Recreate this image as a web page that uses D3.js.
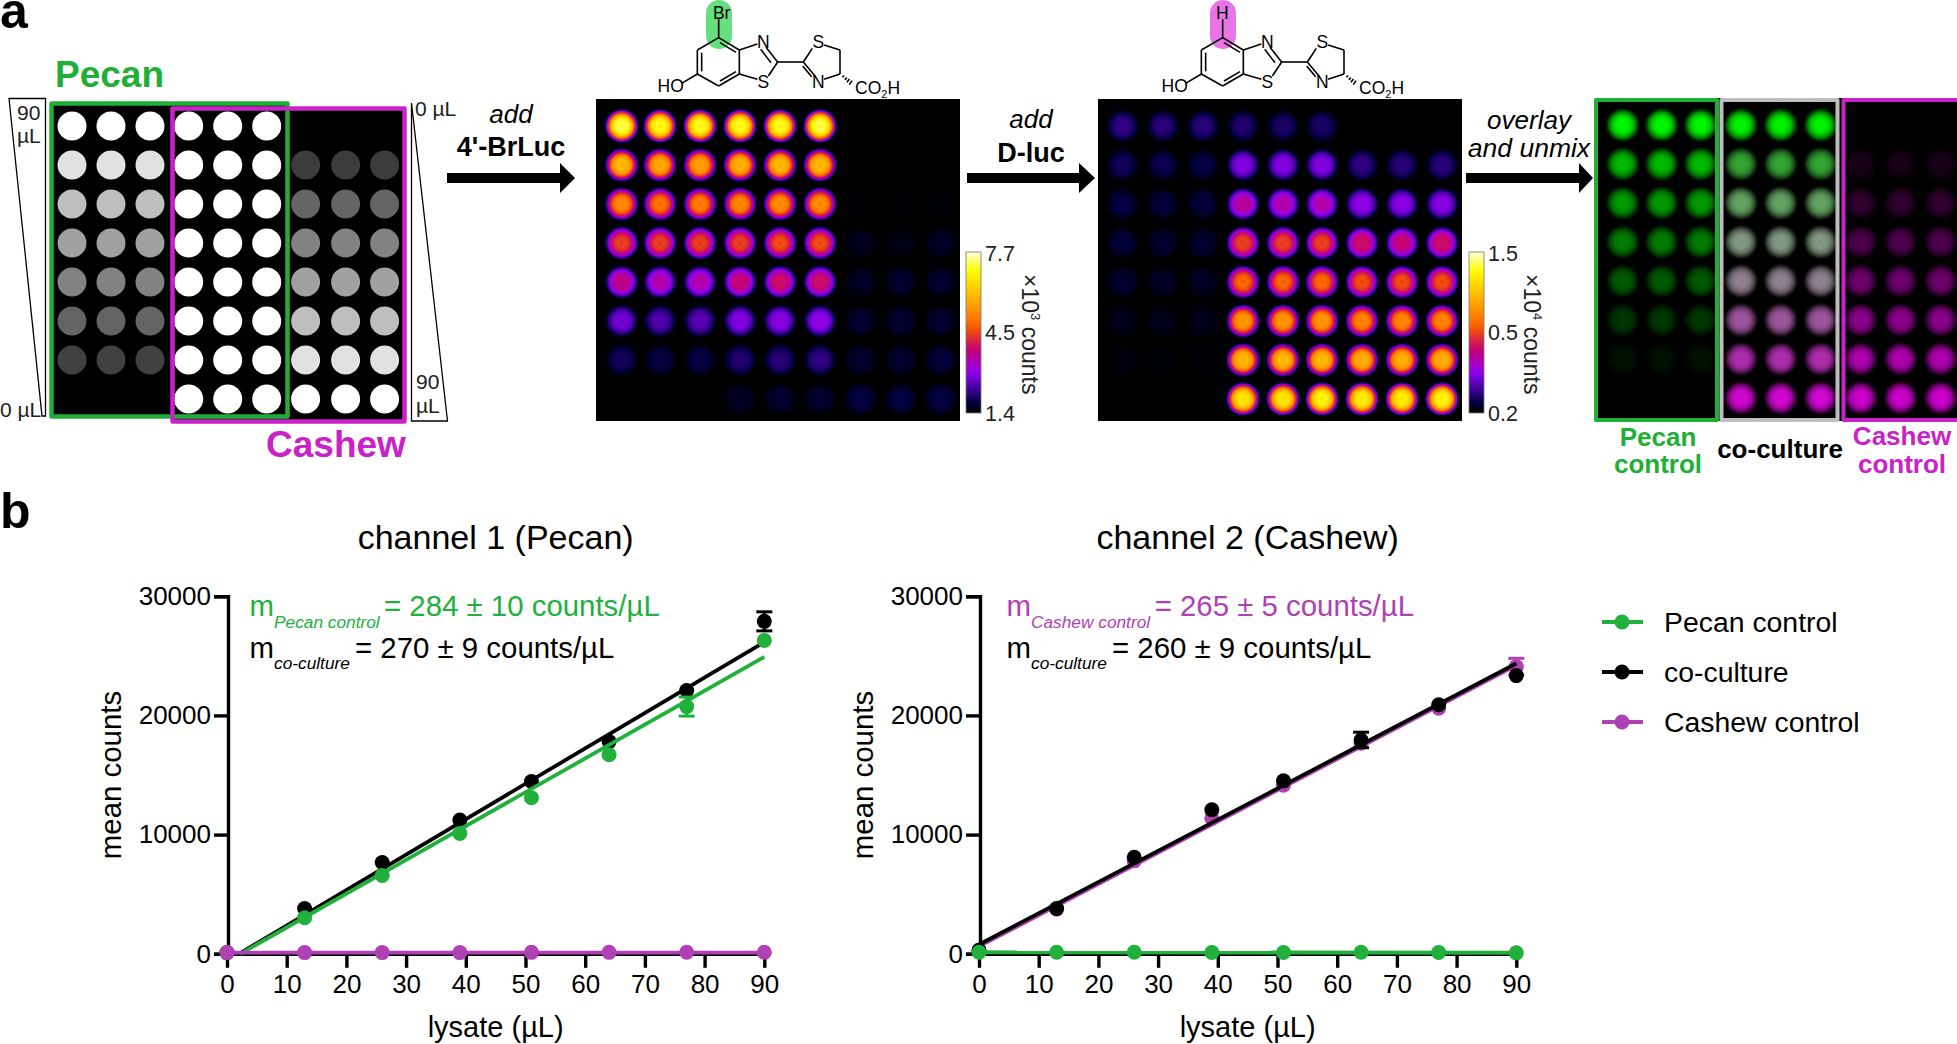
<!DOCTYPE html>
<html><head><meta charset="utf-8">
<script src="https://cdn.jsdelivr.net/npm/d3@7"></script>
<style>
html,body{margin:0;padding:0;background:#fff;overflow:hidden}
svg{display:block}
text{font-family:"Liberation Sans",Arial,sans-serif}
</style></head><body>
<svg id="c" width="1957" height="1044"></svg>
<script>
// ---- Panel b data ----
const lysate=[0,13,26,39,51,64,77,90];
const ch1Pecan=[100,3030,6570,10090,13090,16700,20740,26290];
const ch1Co=[100,3800,7660,11230,14460,17800,22090,27890];
const ch1Cashew=[100,100,100,100,120,120,130,120];
const ch1PecanErr=[0,0,0,0,0,0,800,0];
const ch1CoErr=[0,0,0,0,0,0,0,800];
const ch1CashewErr=[0,0,0,0,0,0,0,0];
const ch2Pecan=[130,130,130,110,110,130,110,80];
const ch2Co=[300,3800,8090,12090,14510,17940,20890,23340];
const ch2Cashew=[300,3750,7800,11370,14140,17660,20600,24090];
const ch2PecanErr=[0,0,0,0,0,0,0,0];
const ch2CoErr=[0,0,0,0,0,650,0,0];
const ch2CashewErr=[0,0,0,0,0,0,0,700];
const ch1FitPecan=[[2.2,0],[90,24900]];
const ch1FitCo=[[2,0],[90,26150]];
const ch1FitCashew=[[0,100],[90,100]];
const ch2FitPecan=[[0,130],[90,90]];
const ch2FitCo=[[0,780],[90,24350]];
const ch2FitCashew=[[0,620],[90,24200]];
const xTicks=[0,10,20,30,40,50,60,70,80,90];
const yTicks=[0,10000,20000,30000];
// ---- Panel a data ----
const platePecan=[255,225,190,160,130,100,65,0];
const plateBoth=[255,255,255,255,255,255,255,255];
const plateCashew=[0,60,100,130,160,190,225,255];
const heat1=[
[.93,.89,.9,.9,.9,.93,0,0,0],
[.74,.70,.68,.72,.74,.74,0,0,0],
[.63,.58,.60,.62,.64,.64,.005,.005,.01],
[.50,.50,.50,.50,.52,.52,.03,.02,.04],
[.38,.34,.34,.40,.42,.42,.04,.05,.05],
[.22,.17,.18,.24,.25,.26,.05,.05,.05],
[.09,.07,.07,.11,.12,.13,.05,.05,.06],
[0,0,0,.04,.05,.05,.07,.07,.07]];
const heat2=[
[.13,.12,.12,.11,.10,.10,0,0,0],
[.09,.08,.07,.24,.24,.24,.13,.12,.12],
[.07,.06,.06,.36,.34,.34,.26,.25,.25],
[.06,.05,.05,.50,.50,.50,.42,.40,.42],
[.05,.04,.04,.56,.56,.56,.52,.52,.52],
[.03,.03,.03,.66,.66,.66,.62,.62,.62],
[.015,.01,.01,.74,.74,.74,.72,.72,.72],
[0,0,0,.84,.84,.88,.86,.86,.88]];
const ovPecanG=[1,.75,.62,.5,.36,.22,.07,0];
const ovPecanM=[0,0,0,0,0,0,0,0];
const ovCoG=[.98,.66,.66,.62,.52,.35,.18,.03];
const ovCoM=[0,.22,.42,.56,.62,.68,.75,.9];
const ovCashewG=[0,0,0,0,0,0,0,0];
const ovCashewM=[0,.1,.2,.33,.47,.6,.75,.88];
// ImageJ "fire" lookup table
const fireR=[0,0,1,25,49,73,98,122,146,162,173,184,195,207,217,229,240,252,255,255,255,255,255,255,255,255,255,255,255,255,255,255];
const fireG=[0,0,0,0,0,0,0,0,0,0,0,0,0,14,35,57,79,101,117,133,147,161,175,190,205,219,234,248,255,255,255,255];
const fireB=[0,31,61,96,130,165,192,220,227,210,181,151,122,93,64,35,5,0,0,0,0,0,0,0,0,0,0,0,35,98,160,223];

const GREEN="#1fae36",MAG="#c922c9",LG="#21b03c",LP="#b040b4";
const fire=d3.scaleLinear().domain(fireR.map((_,i)=>i/31)).range(fireR.map((r,i)=>d3.rgb(r,fireG[i],fireB[i]))).clamp(true);
const profT=[0,.22,.42,.55,.65,.72,.83,.92,1], profV=[.94,1,.92,.8,.65,.52,.27,.07,0];
const svg=d3.select("#c"),defs=svg.append("defs");
let gid=0;
function txt(x,y,s,o={}){
  const t=svg.append("text").attr("x",x).attr("y",y).text(s)
   .attr("font-size",o.fs||26).attr("fill",o.fill||"#000").attr("text-anchor",o.a||"start");
  if(o.b)t.attr("font-weight","bold"); if(o.i)t.attr("font-style","italic");
  if(o.rot!=null)t.attr("transform",`rotate(${o.rot} ${x} ${y})`);
  return t;
}
function grad(colorAt){
  const id="g"+(gid++);
  const g=defs.append("radialGradient").attr("id",id);
  profT.forEach((t,i)=>g.append("stop").attr("offset",t).attr("stop-color",colorAt(profV[i])));
  return id;
}
function wells(cols,rows,values,colorOf,r){
  cols.forEach((cx,c)=>rows.forEach((cy,ro)=>{
    const v=values(ro,c); if(!v)return;
    svg.append("circle").attr("cx",cx).attr("cy",cy).attr("r",r).attr("fill",`url(#${grad(p=>colorOf(v,p,ro,c))})`);
  }));
}
const rowY=d3.range(8).map(d3.scaleLinear([0,7],[126,399]));

// labels a, b
txt(0,28,"a",{fs:50,b:1}); txt(0,528,"b",{fs:50,b:1});

// ---- plate map
svg.append("rect").attr("x",50).attr("y",102).attr("width",239).attr("height",316).attr("fill","#000");
svg.append("rect").attr("x",171).attr("y",107).attr("width",235).attr("height",316).attr("fill","#000");
const plateX=[72,111,150,188.7,227.7,266.7,305.6,345.6,384.6];
plateX.forEach((x,c)=>rowY.forEach((y,r)=>{
  const arr=c<3?platePecan:c<6?plateBoth:plateCashew, v=arr[r];
  if(v)svg.append("circle").attr("cx",x).attr("cy",y).attr("r",14.5).attr("fill",d3.rgb(v,v,v));
}));
svg.append("rect").attr("x",51.5).attr("y",103.5).attr("width",236).attr("height",313).attr("fill","none").attr("stroke",GREEN).attr("stroke-width",4.5).attr("stroke-linejoin","round");
svg.append("rect").attr("x",172.5).attr("y",108.5).attr("width",232).attr("height",313).attr("fill","none").attr("stroke",MAG).attr("stroke-width",4.5).attr("stroke-linejoin","round");
svg.append("polygon").attr("points","9,98.5 45.5,98.5 45.5,416 42,416").attr("fill","#fff").attr("stroke","#000").attr("stroke-width",1.3);
svg.append("polygon").attr("points","411.5,103 447.5,421 411.5,421").attr("fill","#fff").attr("stroke","#000").attr("stroke-width",1.3);
txt(17,120,"90",{fs:21,fill:"#222"}); txt(17,143,"µL",{fs:21,fill:"#222"});
txt(0,417,"0 µL",{fs:21,fill:"#222"});
txt(415,116,"0 µL",{fs:21,fill:"#222"});
txt(416,389,"90",{fs:21,fill:"#222"}); txt(416,413,"µL",{fs:21,fill:"#222"});
txt(55,87,"Pecan",{fs:37,b:1,fill:GREEN});
txt(266,457,"Cashew",{fs:37,b:1,fill:MAG});

// ---- arrows
function arrow(x0,x1,xh,lab1,lab2,o){
  svg.append("polygon").attr("points",`${x0},173 ${xh},173 ${xh},163 ${x1},178 ${xh},193 ${xh},183 ${x0},183`).attr("fill","#000");
  txt(o.c,o.y1,lab1,{fs:26,i:1,a:"middle"});
  txt(o.c,o.y2,lab2,{fs:o.it?26.5:27,i:o.it,b:!o.it,a:"middle"});
}
arrow(447,575,560,"add","4'-BrLuc",{c:511,y1:123,y2:156});
arrow(967,1095,1079,"add","D-luc",{c:1031,y1:128,y2:162});
arrow(1466,1593,1579,"overlay","and unmix",{c:1529,y1:129,y2:157,it:1});

// ---- heat maps
const heats=[
 {x:596,w:364,xs:[621.7,660,700,740,780,820,860.7,900.7,940.7],d:heat1,cb:966,l:["7.7","4.5","1.4"],exp:"3",tc:1022},
 {x:1098,w:364,xs:[1122.7,1163,1203,1243,1283,1322,1362,1402,1442],d:heat2,cb:1469,l:["1.5","0.5","0.2"],exp:"4",tc:1524}];
const cbId="cbar",cb=defs.append("linearGradient").attr("id",cbId).attr("x1",0).attr("x2",0).attr("y1",1).attr("y2",0);
fireR.forEach((_,i)=>cb.append("stop").attr("offset",i/31).attr("stop-color",fire(i/31)));
heats.forEach(h=>{
  svg.append("rect").attr("x",h.x).attr("y",99).attr("width",h.w).attr("height",322).attr("fill","#000");
  wells(h.xs,rowY,(r,c)=>h.d[r][c],(v,p)=>fire(v*p),18);
  svg.append("rect").attr("x",h.cb).attr("y",252).attr("width",15).attr("height",161).attr("fill",`url(#${cbId})`).attr("stroke","#777").attr("stroke-width",.8);
  [261,340,421].forEach((y,i)=>txt(h.cb+19,y,h.l[i],{fs:21.5,fill:"#222"}));
  const t=svg.append("text").attr("transform",`translate(${h.tc},274) rotate(90)`).attr("font-size",23).attr("fill","#222");
  t.append("tspan").text("×10");
  t.append("tspan").text(h.exp).attr("font-size",13).attr("dy",-9);
  t.append("tspan").text(" counts").attr("dy",9);
});

// ---- molecules
const bonds=[[236,113,172,150],[172,150,172,222],[172,222,236,258],[236,258,298,222],[298,222,298,150],[298,150,236,113],
[185,158,185,214],[240,243,288,215],[240,128,288,157],[298,150,352,132],[378,142,413,186],[362,148,393,188],[413,186,385,228],
[352,238,298,222],[413,186,490,186],[490,186,517,145],[552,135,600,150],[600,150,600,222],[600,222,552,238],[525,228,490,186],
[488,198,515,230],[125,250,172,222],[236,113,236,58]];
const hash=[[612,226,608,232],[620,232,615,240],[628,237,621,247],[636,242,628,254]];
function molecule(dx,sub,hl){
  const X=z=>dx+640+z/3,Y=z=>z/3;
  svg.append("rect").attr("x",dx+706).attr("y",0).attr("width",26).attr("height",49).attr("rx",13).attr("fill",hl);
  bonds.concat(hash).forEach(b=>svg.append("line").attr("x1",X(b[0])).attr("y1",Y(b[1])).attr("x2",X(b[2])).attr("y2",Y(b[3])).attr("stroke","#000").attr("stroke-width",1.6));
  const L=(z,y,s)=>txt(X(z),Y(y),s,{fs:17.5,a:"middle"});
  L(sub=="Br"?245:235,56,sub);L(370,143,"N");L(370,263,"S");L(535,145,"S");L(535,263,"N");L(92,277,"HO");
  const t=txt(X(645),Y(282),"CO",{fs:17.5});
  t.append("tspan").text("2").attr("font-size",11).attr("dy",4);
  t.append("tspan").text("H").attr("dy",-4);
}
molecule(0,"Br","#66e07c");
molecule(504,"H","#e874e8");

// ---- overlay panels
const ovBoxes=[{x:1596,w:121,c:GREEN},{x:1721.5,w:116,c:"#bdbdbd"},{x:1843.5,w:125,c:MAG}];
svg.append("rect").attr("x",1595).attr("y",98).attr("width",362).attr("height",323).attr("fill","#000");
const ovCols=[[1622.7,1661.7,1700.7],[1741,1780.7,1820.7],[1860.7,1900.7,1940.7]];
const ovG=[ovPecanG,ovCoG,ovCashewG],ovM=[ovPecanM,ovCoM,ovCashewM];
const rowOv=d3.range(8).map(d3.scaleLinear([0,7],[125,398]));
ovCols.forEach((xs,k)=>{
  const col=(p,r)=>d3.rgb(255*ovM[k][r]*p*.92,255*ovG[k][r]*p*.98,255*ovM[k][r]*p*.92);
  wells(xs,rowOv,(r)=>Math.max(ovG[k][r],ovM[k][r]),(v,p,r)=>col(p,r),18);
});
ovBoxes.forEach(b=>svg.append("rect").attr("x",b.x).attr("y",100).attr("width",b.w).attr("height",320).attr("fill","none").attr("stroke",b.c).attr("stroke-width",4).attr("stroke-linejoin","round"));
txt(1658,446,"Pecan",{fs:26,b:1,fill:GREEN,a:"middle"});
txt(1658,473,"control",{fs:26,b:1,fill:GREEN,a:"middle"});
txt(1780,458,"co-culture",{fs:26,b:1,a:"middle"});
txt(1902,445,"Cashew",{fs:26,b:1,fill:MAG,a:"middle"});
txt(1902,473,"control",{fs:26,b:1,fill:MAG,a:"middle"});

// ---- line charts
function chart(o){
  const x=d3.scaleLinear([0,90],[o.x0,o.x0+537.3]);
  const y=d3.scaleLinear([0,30000],[953.8,596.2]);
  const g=svg.append("g");
  const ya=g.append("g").attr("transform",`translate(${o.x0+1},0)`).call(d3.axisLeft(y).tickValues(yTicks).tickFormat(d3.format("d")).tickSize(14).tickPadding(3));
  const xa=g.append("g").attr("transform",`translate(0,953.8)`).call(d3.axisBottom(x).tickValues(xTicks).tickFormat(d3.format("d")).tickSize(14).tickPadding(7).tickSizeOuter(0));
  [ya,xa].forEach(a=>{
    a.selectAll("path,line").attr("stroke","#000").attr("stroke-width",3.4);
    a.selectAll("text").attr("font-size",26).attr("fill","#000").attr("font-family",'"Liberation Sans",Arial,sans-serif');
  });
  const ln=d3.line().x(d=>x(d[0])).y(d=>y(d[1]));
  o.series.forEach(s=>{
    g.append("path").attr("d",ln(s.fit)).attr("fill","none").attr("stroke",s.color).attr("stroke-width",3.8);
    lysate.forEach((l,i)=>{
      const e=s.err[i];
      if(e>0){
        const xx=x(l);
        g.append("line").attr("x1",xx).attr("x2",xx).attr("y1",y(s.v[i]-e)).attr("y2",y(s.v[i]+e)).attr("stroke",s.color).attr("stroke-width",3);
        [s.v[i]-e,s.v[i]+e].forEach(w=>g.append("line").attr("x1",xx-8).attr("x2",xx+8).attr("y1",y(w)).attr("y2",y(w)).attr("stroke",s.color).attr("stroke-width",3));
      }
      g.append("circle").attr("cx",x(l)).attr("cy",y(s.v[i])).attr("r",7.5).attr("fill",s.color);
    });
  });
  txt(x(45),548.5,o.title,{fs:34,a:"middle"});
  txt(x(45),1037,"lysate (µL)",{fs:29,a:"middle"});
  txt(o.x0-106,775,"mean counts",{fs:29.4,a:"middle",rot:-90});
  const a=o.ann;
  txt(a.m,616,"m",{fs:29.4,fill:a.c});
  txt(a.m+24.5,627.5,a.sub1,{fs:17.3,i:1,fill:a.c});
  txt(a.e1,616,a.t1,{fs:29.4,fill:a.c});
  txt(a.m,657.5,"m",{fs:29.4});
  txt(a.m+24.5,668.5,"co-culture",{fs:17.3,i:1});
  txt(a.e2,657.5,a.t2,{fs:29.4});
}
chart({x0:227,title:"channel 1 (Pecan)",
 series:[{fit:ch1FitCo,v:ch1Co,err:ch1CoErr,color:"#000"},
         {fit:ch1FitPecan,v:ch1Pecan,err:ch1PecanErr,color:LG},
         {fit:ch1FitCashew,v:ch1Cashew,err:ch1CashewErr,color:LP}],
 ann:{m:249.5,c:LG,sub1:"Pecan control",e1:384,t1:"= 284 ± 10 counts/µL",e2:355,t2:"= 270 ± 9 counts/µL"}});
chart({x0:979,title:"channel 2 (Cashew)",
 series:[{fit:ch2FitCashew,v:ch2Cashew,err:ch2CashewErr,color:LP},
         {fit:ch2FitCo,v:ch2Co,err:ch2CoErr,color:"#000"},
         {fit:ch2FitPecan,v:ch2Pecan,err:ch2PecanErr,color:LG}],
 ann:{m:1006.5,c:LP,sub1:"Cashew control",e1:1154.7,t1:"= 265 ± 5 counts/µL",e2:1112,t2:"= 260 ± 9 counts/µL"}});

// ---- legend
[["Pecan control",LG,622],["co-culture","#000",672],["Cashew control",LP,722]].forEach(d=>{
  svg.append("line").attr("x1",1602).attr("x2",1643).attr("y1",d[2]).attr("y2",d[2]).attr("stroke",d[1]).attr("stroke-width",3.8);
  svg.append("circle").attr("cx",1622).attr("cy",d[2]).attr("r",7.5).attr("fill",d[1]);
  txt(1664,d[2]+10,d[0],{fs:28.4});
});
</script></body></html>
